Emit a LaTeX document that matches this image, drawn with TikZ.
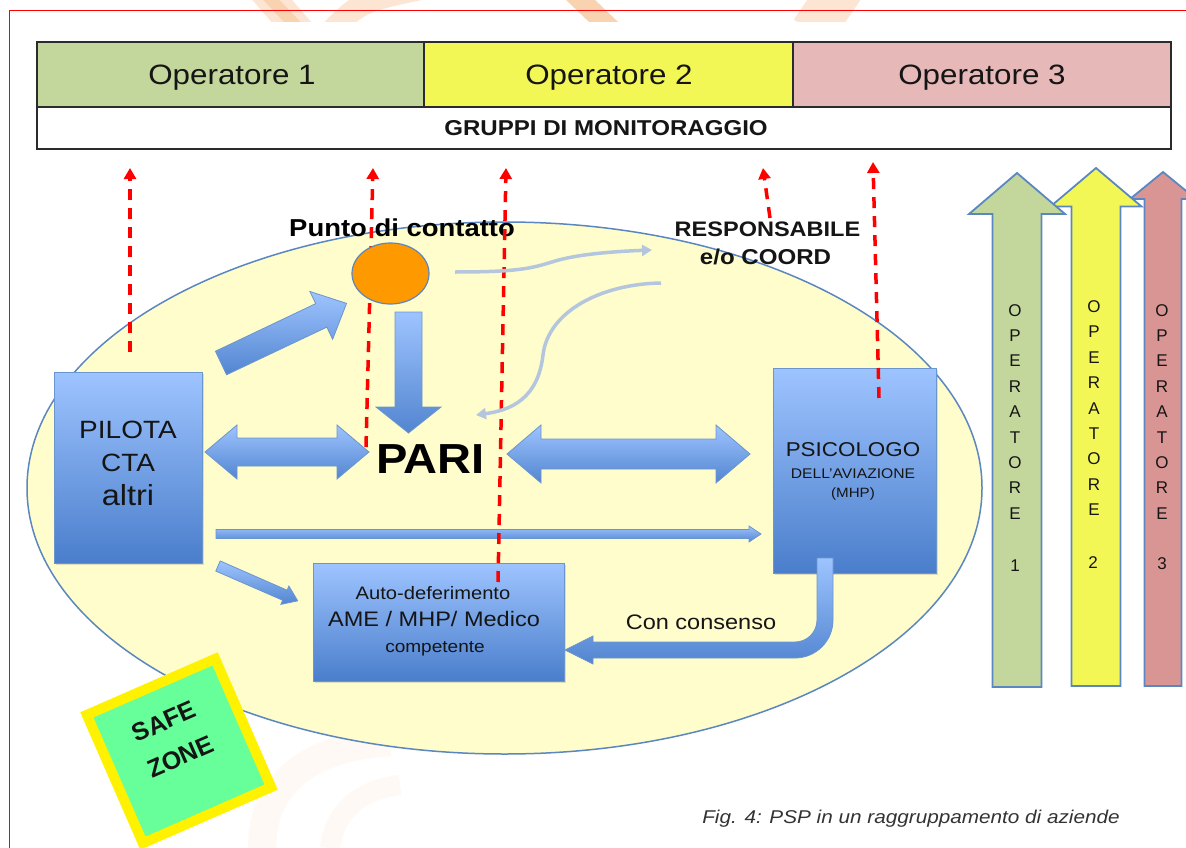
\documentclass[tikz,border=0pt]{standalone}
\usepackage{fontspec}
\setmainfont{Liberation Sans}
\usetikzlibrary{shapes.geometric,arrows.meta,shadows}

\definecolor{opgreen}{HTML}{C3D69B}
\definecolor{opyellow}{HTML}{F3F756}
\definecolor{oppink}{HTML}{E6B8B7}
\definecolor{arrpink}{HTML}{D99594}
\definecolor{tableline}{HTML}{2B2B2B}
\definecolor{zonefill}{HTML}{FFFDCC}
\definecolor{zoneline}{HTML}{5B87C0}
\definecolor{bluetop}{HTML}{9EC4FF}
\definecolor{bluebot}{HTML}{4A7ECB}
\definecolor{blueline}{HTML}{6B95CF}
\definecolor{softblue}{HTML}{B3C6DD}
\definecolor{contactorange}{HTML}{FF9900}
\definecolor{safegreen}{HTML}{66FF99}
\definecolor{ink}{HTML}{151515}
\definecolor{capink}{HTML}{333333}
\definecolor{wmA}{HTML}{F9D3B0}
\definecolor{wmB}{HTML}{FCE6D3}
\definecolor{wmC}{HTML}{FEF9F4}

\newcommand\fsz[2]{\fontsize{#1}{#2}\selectfont}

% single-headed block arrow: style, tail point, angle, length, half shaft, half head, head length
\newcommand\blockarrow[7]{%
  \begin{scope}[shift={#2},rotate=#3]
    \path[#1] (0,-#5) -- ({#4-#7},-#5) -- ({#4-#7},-#6) -- (#4,0)
      -- ({#4-#7},#6) -- ({#4-#7},#5) -- (0,#5) -- cycle;
  \end{scope}}

% double-headed block arrow: style, tail point, angle, length, half shaft, half head, head length
\newcommand\twowayarrow[7]{%
  \begin{scope}[shift={#2},rotate=#3]
    \path[#1] (0,0) -- (#7,-#6) -- (#7,-#5) -- ({#4-#7},-#5) -- ({#4-#7},-#6)
      -- (#4,0) -- ({#4-#7},#6) -- ({#4-#7},#5) -- (#7,#5) -- (#7,#6) -- cycle;
  \end{scope}}

\begin{document}
\begin{tikzpicture}[x=1pt,y=-1pt,
  txt/.style={inner sep=0pt, anchor=base, xscale=1.12, text=ink},
  cell/.style={draw=tableline, line width=1.5pt, inner sep=0pt, outer sep=0pt},
  bluebox/.style={draw=blueline, line width=1pt, top color=bluetop, bottom color=bluebot,
    inner sep=0pt, drop shadow={opacity=0.25, shadow xshift=1.5pt, shadow yshift=-2pt}},
  blockarr/.style={draw=blueline, line width=0.8pt, top color=bluetop, bottom color=bluebot!90!bluetop},
  reddash/.style={draw=red, line width=3.5pt, dash pattern=on 11pt off 8pt,
    -{Triangle[length=11pt,width=12pt]}},
  softarrow/.style={draw=softblue, line width=3.5pt, -{Triangle[length=10pt,width=11pt]}},
  uparrow/.style={draw=zoneline, line width=1.8pt},
  vletter/.style={inner sep=0pt, anchor=base, text=ink, font=\fsz{17}{20}}]

\clip (0,0) rectangle (1186,848);
\fill[white] (0,0) rectangle (1186,848);

% faint logo in the page background
\begin{scope}
  \clip (0,0) rectangle (1186,22);
  \draw[wmB, line width=30pt] (255,-20) -- (300,32);
  \draw[wmA, line width=12pt] (262,-10) -- (296,26);
  \draw[wmB, line width=22pt] (330,32) .. controls (360,2) .. (425,-12);
  \draw[wmA, line width=20pt] (568,-12) -- (612,30);
  \draw[wmB, line width=44pt] (842,-12) -- (812,32);
\end{scope}
\draw[wmC, line width=28pt] (262,848) .. controls (262,790) and (300,748) .. (390,742);
\draw[wmC, line width=20pt] (330,848) .. controls (335,810) and (360,790) .. (400,785);

% page frame
\draw[red, line width=1.5pt] (9.5,848) -- (9.5,10.5) -- (1186,10.5);

% monitoring groups table
\node[cell, fill=opgreen, minimum width=387pt, minimum height=65pt] (op1) at (230.5,74.5) {};
\node[cell, fill=opyellow, minimum width=369pt, minimum height=65pt] (op2) at (608.5,74.5) {};
\node[cell, fill=oppink, minimum width=378pt, minimum height=65pt] (op3) at (982,74.5) {};
\node[cell, fill=white, minimum width=1134pt, minimum height=42pt] (gruppi) at (604,128) {};
\node[txt, font=\fsz{28}{32}] (op1t) at (232,85) {Operatore 1};
\node[txt, font=\fsz{28}{32}] (op2t) at (609,85) {Operatore 2};
\node[txt, font=\fsz{28}{32}] (op3t) at (982,85) {Operatore 3};
\node[txt, font=\fsz{21.5}{25}\bfseries] (grt) at (606,136) {GRUPPI DI MONITORAGGIO};

% safe zone ellipse
\node[ellipse, draw=zoneline, line width=1.5pt, fill=zonefill, minimum width=955pt,
  minimum height=532pt, inner sep=0pt] (zone) at (504.5,488) {};

% actors
\node[bluebox, minimum width=148pt, minimum height=191pt] (pilota) at (128,467.5) {};
\node[bluebox, minimum width=163pt, minimum height=205pt] (psico) at (854.5,470.5) {};
\node[bluebox, minimum width=251pt, minimum height=118pt] (auto) at (438.5,622) {};

\node[txt, font=\fsz{25}{30}] (pil1) at (128,438) {PILOTA};
\node[txt, font=\fsz{25}{30}] (pil2) at (128,471) {CTA};
\node[txt, font=\fsz{29}{34}] (pil3) at (128,505.5) {altri};

\node[txt, font=\fsz{20}{24}] (psi1) at (853,456) {PSICOLOGO};
\node[txt, font=\fsz{14}{17}] (psi2) at (853,478.5) {DELL'AVIAZIONE};
\node[txt, font=\fsz{13.5}{16}] (psi3) at (853,497.5) {(MHP)};

\node[txt, font=\fsz{18}{21}] (au1) at (433,599) {Auto-deferimento};
\node[txt, font=\fsz{21}{25}] (au2) at (434,626) {AME / MHP/ Medico};
\node[txt, font=\fsz{17}{20}] (au3) at (435,652) {competente};

% block arrows between the actors
\blockarrow{blockarr}{(221,363)}{25.4}{139}{13}{26.5}{28}
\blockarrow{blockarr}{(408.5,312)}{-90}{121}{13.5}{32.5}{26}
\twowayarrow{blockarr}{(205,452)}{0}{164}{14}{27}{32}
\twowayarrow{blockarr}{(507,454)}{0}{243}{15}{29}{34}
\blockarrow{blockarr}{(216,534)}{0}{545}{4.5}{8}{12}
\blockarrow{blockarr}{(218,566)}{-23.6}{87}{5.5}{10}{14}

% consent path from the psychologist to the self-referral box
\path[blockarr] (817,558) -- (833,558) -- (833,620) arc[start angle=0,end angle=90,radius=38]
  -- (593,658) -- (593,664) -- (565,650) -- (593,636) -- (593,642) -- (795,642)
  arc[start angle=90,end angle=0,radius=22] -- cycle;
\node[txt, font=\fsz{21}{25}] (cons) at (701,629.5) {Con consenso};

% central labels
\node[txt, font=\fsz{42}{48}\bfseries, text=black] (pari) at (430.5,473) {PARI};
\node[txt, font=\fsz{24.5}{28}\bfseries, text=black] (punto) at (402,236) {Punto di contatto};
\node[txt, font=\fsz{21}{25}\bfseries] (resp1) at (767.5,236) {RESPONSABILE};
\node[txt, font=\fsz{21.5}{25}\bfseries] (resp2) at (765.5,264) {e/o COORD};

% reporting lines towards the monitoring groups
\coordinate (r1a) at (130,352);   \coordinate (r1b) at (130,168);
\coordinate (r2a) at (366,447);   \coordinate (r2b) at (373,168);
\coordinate (r3a) at (498,582);   \coordinate (r3b) at (506,168);
\coordinate (r4a) at (770,218);   \coordinate (r4b) at (763,168);
\coordinate (r5a) at (879,398);   \coordinate (r5b) at (873,162);
\draw[reddash] (r1a) -- (r1b);
\draw[reddash] (r2a) -- (r2b);
\draw[reddash] (r3a) -- (r3b);
\draw[reddash] (r4a) -- (r4b);
\draw[reddash] (r5a) -- (r5b);

% contact point
\node[ellipse, draw=zoneline, line width=1.2pt, fill=contactorange, minimum width=77pt,
  minimum height=61pt, inner sep=0pt] (contact) at (390.5,273.5) {};

% exchanges with the coordinator
\coordinate (c1s) at (455,272);  \coordinate (c1e) at (652,250);
\coordinate (c2s) at (661,283);  \coordinate (c2e) at (476,415);
\draw[softarrow] (c1s) .. controls (520,272) and (532,268) .. (552,262)
  .. controls (570,256) and (600,252) .. (c1e);
\draw[softarrow] (c2s) .. controls (600,284) and (548,312) .. (543,355)
  .. controls (538,398) and (512,410) .. (c2e);

% operator columns
\blockarrow{uparrow, fill=arrpink}{(1163,686)}{90}{514}{18.5}{33}{27}
\blockarrow{uparrow, fill=opyellow}{(1096,686)}{90}{518}{24.5}{45.5}{38.5}
\blockarrow{uparrow, fill=opgreen}{(1017,687)}{90}{514}{24.5}{48}{41}
\foreach \l [count=\i] in {O,P,E,R,A,T,O,R,E} {
  \node[vletter] (ga\i) at (1015,{316+(\i-1)*25.4}) {\l};
  \node[vletter] (ya\i) at (1094,{312.5+(\i-1)*25.4}) {\l};
  \node[vletter] (pa\i) at (1162,{316+(\i-1)*25.4}) {\l};
}
\node[vletter] (gnum) at (1015,571) {1};
\node[vletter] (ynum) at (1093,568) {2};
\node[vletter] (pnum) at (1162,569) {3};

% safe zone tag
\node[draw=yellow, line width=10pt, fill=safegreen, minimum size=140pt, inner sep=0pt,
  rotate=23.6] (safe) at (179,751) {};
\begin{scope}[shift={(179,751)}, rotate=23.6]
  \node[inner sep=0pt, rotate=23.6, font=\fsz{25}{30}\bfseries, text=ink] (safe1) at (-2,-33) {SAFE};
  \node[inner sep=0pt, rotate=23.6, font=\fsz{25}{30}\bfseries, text=ink] (safe2) at (-1,6) {ZONE};
\end{scope}

% caption
\node[txt, font=\fsz{18.5}{22}\itshape, text=capink] (cap) at (911,823)
  {Fig. 4: PSP in un raggruppamento di aziende};
\end{tikzpicture}
\end{document}
